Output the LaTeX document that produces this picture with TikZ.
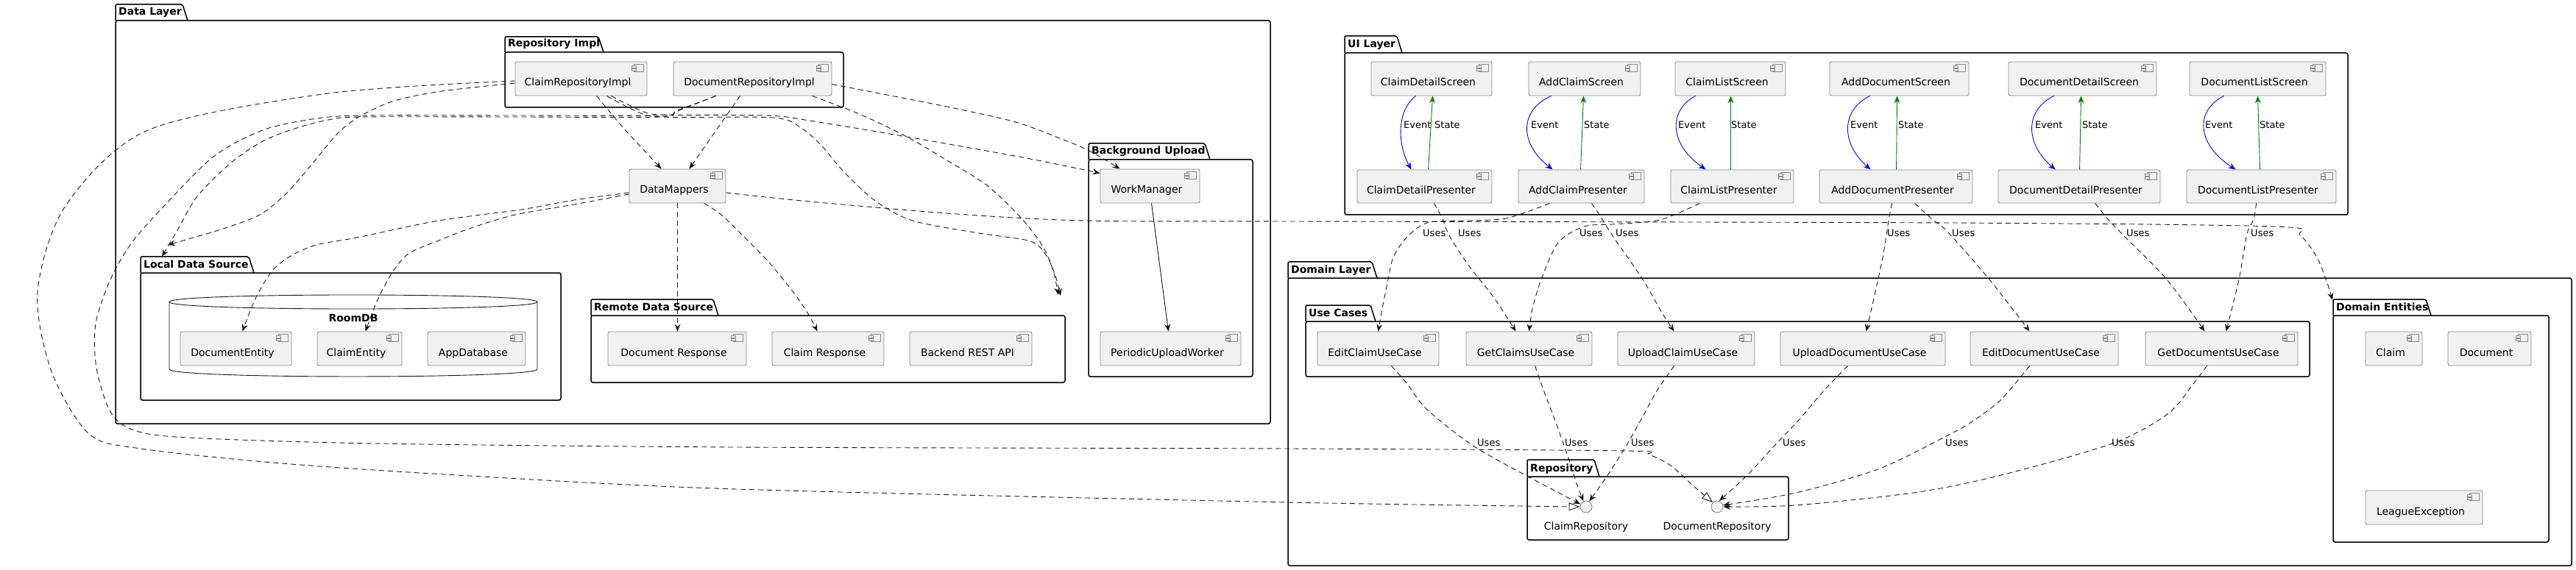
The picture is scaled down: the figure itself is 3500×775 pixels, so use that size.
\documentclass[tikz,border=0pt]{standalone}
\usepackage{fontspec}
\setmainfont{DejaVu Sans}
\usetikzlibrary{arrows.meta}
\definecolor{compfill}{HTML}{F1F1F1}
\definecolor{compline}{HTML}{8A8A8A}
\definecolor{arrowc}{HTML}{181818}
\definecolor{evblue}{HTML}{0000FF}
\definecolor{stgreen}{HTML}{008000}
\tikzset{
  compbox/.style={draw=compline, fill=compfill, rounded corners=2.5pt, line width=0.9pt, inner sep=0pt},
  comptext/.style={font=\fontsize{14}{16}\selectfont, text height=10pt, text depth=3pt, inner sep=0pt},
  iconst/.style={draw=compline, fill=compfill, line width=0.7pt},
  pkgline/.style={draw=black, line width=1.5pt},
  pkgbody/.style={draw=black, line width=1.5pt, rounded corners=2.5pt, inner sep=0pt},
  pkgtitle/.style={font=\bfseries\fontsize{14}{16}\selectfont, inner sep=0pt},
  dep/.style={draw=arrowc, line width=0.9pt, dash pattern=on 7pt off 5pt, -{Stealth[length=10pt,width=8pt,inset=3.5pt]}},
  real/.style={draw=arrowc, line width=0.9pt, dash pattern=on 7pt off 5pt, -{Triangle[length=15pt,width=11pt,fill=white]}},
  solidarr/.style={draw=arrowc, line width=0.9pt, -{Stealth[length=10pt,width=8pt,inset=3.5pt]}},
  evarr/.style={draw=evblue, line width=0.9pt, -{Stealth[length=10pt,width=8pt,inset=3.5pt]}},
  starr/.style={draw=stgreen, line width=0.9pt, -{Stealth[length=10pt,width=8pt,inset=3.5pt]}},
  lbl/.style={font=\fontsize{13}{15}\selectfont, inner sep=0pt, anchor=base west},
  iface/.style={circle, draw=compline, fill=compfill, line width=0.9pt, minimum size=16pt, inner sep=0pt},
}
\newcommand\mkicon[1]{%
  \draw[iconst] ([xshift=-18pt,yshift=-4pt]#1.north east) rectangle ([xshift=-5pt,yshift=-14pt]#1.north east);
  \draw[iconst] ([xshift=-21pt,yshift=-6pt]#1.north east) rectangle ([xshift=-15pt,yshift=-8.5pt]#1.north east);
  \draw[iconst] ([xshift=-21pt,yshift=-10pt]#1.north east) rectangle ([xshift=-15pt,yshift=-12.5pt]#1.north east);
}
\newcommand\mkcomp[6]{%
  \node[compbox, minimum width={#4-#2}, minimum height={#5-#3}] (#1) at ({(#2+#4)/2},{(#3+#5)/2}) {};
  \node[comptext] (#1-t) at ([xshift=-4.5pt,yshift=-6.5pt]#1.center) {#6};
  \mkicon{#1}
}
\newcommand\mkpkg[8]{%
  \draw[pkgline, rounded corners=2pt] (#2,#5) -- (#2,#3) -- ({#4-7},#3) -- (#4,#5);
  \node[pkgbody, minimum width={#6-#2}, minimum height={#7-#5}] (#1) at ({(#2+#6)/2},{(#5+#7)/2}) {};
  \node[pkgtitle, anchor=base west] (#1-t) at ({#2+4},{#5-7}) {#8};
}
\begin{document}
\begin{tikzpicture}[x=1pt,y=-1pt]
\useasboundingbox (0,0) rectangle (3500,775);
\fill[white] (0,0) rectangle (3500,775);

% ---------- packages ----------
\mkpkg{datalayer}{157}{6}{255}{28}{1726}{576}{Data Layer}
\mkpkg{repoimpl}{686}{50}{820}{71}{1146}{146}{Repository Impl}
\mkpkg{localds}{191}{349}{345}{371}{762}{544}{Local Data Source}
\mkpkg{remoteds}{803}{407}{976}{429}{1447}{520}{Remote Data Source}
\mkpkg{bgupload}{1479}{195}{1644}{217}{1702}{512}{Background Upload}
\mkpkg{uilayer}{1827}{49}{1905}{72}{3190}{292}{UI Layer}
\mkpkg{domainlayer}{1750}{356}{1871}{378}{3494}{769}{Domain Layer}
\mkpkg{usecases}{1774}{415}{1869}{437}{3138}{512}{Use Cases}
\mkpkg{domentities}{3170}{407}{3303}{429}{3463}{737}{Domain Entities}
\mkpkg{repository}{2075}{625}{2173}{648}{2430}{734}{Repository}

% RoomDB cylinder
\draw[draw=arrowc, line width=0.9pt, fill=white] (230,410.5) -- (230,502) .. controls (230,515.3) and (730,515.3) .. (730,502) -- (730,410.5);
\draw[draw=arrowc, line width=0.9pt, fill=white] (230,410.5) .. controls (230,397.8) and (730,397.8) .. (730,410.5) .. controls (730,423.2) and (230,423.2) .. cycle;
\node[pkgtitle, anchor=base] (roomdb-t) at (480,437) {RoomDB};

% ---------- components ----------
\mkcomp{cri}{700}{84}{879}{130}{ClaimRepositoryImpl}
\mkcomp{dri}{915}{84}{1130}{130}{DocumentRepositoryImpl}
\mkcomp{dm}{855}{230}{986}{276}{DataMappers}
\mkcomp{wm}{1495}{230}{1630}{276}{WorkManager}
\mkcomp{puw}{1495}{451}{1686}{497}{PeriodicUploadWorker}
\mkcomp{de}{245}{451}{396}{497}{DocumentEntity}
\mkcomp{ce}{431}{451}{546}{497}{ClaimEntity}
\mkcomp{ad}{581}{451}{714}{497}{AppDatabase}
\mkcomp{dr}{826}{451}{1014}{497}{Document Response}
\mkcomp{cr}{1049}{451}{1201}{497}{Claim Response}
\mkcomp{api}{1236}{451}{1402}{497}{Backend REST API}

\mkcomp{cds}{1863}{84}{2027}{130}{ClaimDetailScreen}
\mkcomp{acs}{2077}{84}{2229}{130}{AddClaimScreen}
\mkcomp{cls}{2276}{84}{2426}{130}{ClaimListScreen}
\mkcomp{ads}{2486}{84}{2675}{130}{AddDocumentScreen}
\mkcomp{dds}{2729}{84}{2930}{130}{DocumentDetailScreen}
\mkcomp{dls}{2975}{84}{3160}{130}{DocumentListScreen}

\mkcomp{cdp}{1844}{231}{2027}{276}{ClaimDetailPresenter}
\mkcomp{acp}{2063}{231}{2234}{276}{AddClaimPresenter}
\mkcomp{clp}{2270}{231}{2437}{276}{ClaimListPresenter}
\mkcomp{adp}{2472}{231}{2680}{276}{AddDocumentPresenter}
\mkcomp{ddp}{2715}{231}{2935}{276}{DocumentDetailPresenter}
\mkcomp{dlp}{2971}{231}{3174}{276}{DocumentListPresenter}

\mkcomp{ecu}{1790}{451}{1955}{497}{EditClaimUseCase}
\mkcomp{gcu}{1992}{451}{2163}{497}{GetClaimsUseCase}
\mkcomp{ucu}{2198}{451}{2384}{497}{UploadClaimUseCase}
\mkcomp{udu}{2419}{451}{2643}{497}{UploadDocumentUseCase}
\mkcomp{edu}{2677}{451}{2878}{497}{EditDocumentUseCase}
\mkcomp{gdu}{2915}{451}{3122}{497}{GetDocumentsUseCase}

\mkcomp{claim}{3214}{451}{3291}{497}{Claim}
\mkcomp{document}{3326}{451}{3439}{497}{Document}
\mkcomp{leagueex}{3214}{667}{3373}{713}{LeagueException}

\node[iface] (crepo) at (2155,689) {};
\node[comptext] (crepo-t) at (2155,716.5) {ClaimRepository};
\node[iface] (drepo) at (2333,689) {};
\node[comptext] (drepo-t) at (2333,716.5) {DocumentRepository};

% package target points
\coordinate (ldsA) at (228,333);
\coordinate (ldsB) at (220,349);
\coordinate (rdsT1) at (1441,402);
\coordinate (rdsT2) at (1438,401);
\coordinate (deTab) at (3169,408);

% ---------- data layer connectors ----------
\draw[dep] plot[smooth] coordinates {([xshift=111pt]cri.south west) (848,175) ([xshift=44pt]dm.north west)};
\draw[dep] ([xshift=91pt]dri.south west) -- ([xshift=82pt]dm.north west);
\draw[real] plot[smooth] coordinates {([yshift=-3pt]cri.west) (446,127) (201,177) (89,280) (51,397) (70,505) (121,590) (191,610) (383,630) (638,647) (1000,665) (1750,683) (crepo.west)};
\draw[real] plot[smooth] coordinates {([xshift=58pt]dri.south west) (920,150) (896,157) (700,157) (491,157) (424,162) (357,177) (290,213) (223,280) (179,330) (150,380) (130,440) (131,500) (150,560) (182,585) (255,595) (510,603) (1000,608) (1750,610) (2209,613) (2240,618) (2270,633) (2300,660) (drepo.135)};
\draw[dep] plot[smooth] coordinates {([yshift=-6pt]cri.west) (600,124) (536,137) (491,157) (460,180) (424,223) (390,262) (353,292) (300,312) (ldsA)};
\draw[dep] plot[smooth] coordinates {([xshift=58pt]dri.south west) (920,151) (896,159) (700,159) (491,159) (446,163) (400,175) (357,192) (313,222) (268,267) (241,313) (ldsB)};
\draw[dep] plot[smooth] coordinates {([xshift=131pt]cri.south west) (870,150) (900,156) (1042,157) (1100,164) (1238,187) (1400,216) ([yshift=-6pt]wm.north west)};
\draw[dep] plot[smooth] coordinates {([xshift=125pt]cri.south west) (862,150) (898,159) (1051,160) (1090,175) (1118,200) (1145,232) (1189,273) (1240,300) (1330,317) (1400,328) (1422,348) (1434,375) (rdsT1)};
\draw[dep] plot[smooth] coordinates {([yshift=-31pt]dri.north east) (1200,128) (1296,147) (1380,166) (1440,188) (1480,205) ([xshift=27pt]wm.north west)};
\draw[dep] plot[smooth] coordinates {([xshift=189pt]dri.south west) (1170,156) (1234,187) (1290,220) (1341,252) (1386,295) (1415,332) (1430,365) (rdsT2)};
\draw[dep] plot[smooth] coordinates {([yshift=-9pt]dm.west) (780,272) (708,285) (596,300) (485,323) (430,333) (395,348) (370,368) (350,400) (337,430) ([xshift=85pt]de.north west)};
\draw[dep] plot[smooth] coordinates {([yshift=-11pt]dm.west) (780,278) (700,292) (640,310) (596,327) (555,345) (532,372) (512,410) ([xshift=66pt]ce.north west)};
\draw[dep] ([xshift=66pt]dm.south west) -- ([xshift=95pt]dr.north west);
\draw[dep] plot[smooth] coordinates {([xshift=102pt]dm.south west) (980,292) (1011,322) (1045,357) (1080,400) (1100,430) ([xshift=62pt]cr.north west)};
\draw[dep] plot[smooth] coordinates {([yshift=-9pt]dm.east) (1100,274) (1300,291) (1475,300) (1750,301) (2650,303) (3090,308) (3125,320) (3148,350) (3162,385) (deTab)};
\draw[solidarr] ([xshift=70pt]wm.south west) -- ([xshift=93pt]puw.north west);

% ---------- UI event / state ----------
\draw[evarr] ([xshift=61pt]cds.south west) .. controls (1898,150) and (1898,195) .. ([xshift=74pt]cdp.north west);
\draw[starr] ([xshift=97pt]cdp.north west) -- ([xshift=84pt]cds.south west);
\draw[evarr] ([xshift=31pt]acs.south west) .. controls (2064,150) and (2064,195) .. ([xshift=47pt]acp.north west);
\draw[starr] ([xshift=85pt]acp.north west) -- ([xshift=75pt]acs.south west);
\draw[evarr] ([xshift=28pt]cls.south west) .. controls (2267,150) and (2267,195) .. ([xshift=48pt]clp.north west);
\draw[starr] ([xshift=82pt]clp.north west) -- ([xshift=76pt]cls.south west);
\draw[evarr] ([xshift=55pt]ads.south west) .. controls (2501,150) and (2501,195) .. ([xshift=70pt]adp.north west);
\draw[starr] ([xshift=105pt]adp.north west) -- ([xshift=92pt]ads.south west);
\draw[evarr] ([xshift=62pt]dds.south west) .. controls (2751,150) and (2751,195) .. ([xshift=78pt]ddp.north west);
\draw[starr] ([xshift=111pt]ddp.north west) -- ([xshift=99pt]dds.south west);
\draw[evarr] ([xshift=47pt]dls.south west) .. controls (2983,150) and (2983,195) .. ([xshift=67pt]dlp.north west);
\draw[starr] ([xshift=100pt]dlp.north west) -- ([xshift=93pt]dls.south west);

\node[lbl] (ev1) at (1907,175) {Event};
\node[lbl] (st1) at (1949,175) {State};
\node[lbl] (ev2) at (2080,175) {Event};
\node[lbl] (st2) at (2152,175) {State};
\node[lbl] (ev3) at (2280,175) {Event};
\node[lbl] (st3) at (2352,175) {State};
\node[lbl] (ev4) at (2514,175) {Event};
\node[lbl] (st4) at (2579,175) {State};
\node[lbl] (ev5) at (2765,175) {Event};
\node[lbl] (st5) at (2829,175) {State};
\node[lbl] (ev6) at (2996,175) {Event};
\node[lbl] (st6) at (3070,175) {State};

% ---------- presenters -> use cases ----------
\draw[dep] plot[smooth] coordinates {([xshift=43pt]acp.south west) (2046,297) (1990,300) (1939,303) (1911,323) (1893,350) (1886,380) (1878,420) ([xshift=83pt]ecu.north west)};
\draw[dep] plot[smooth] coordinates {([xshift=105pt]cdp.south west) (1960,298) (1970,322) (1997,363) (2030,405) ([xshift=68pt]gcu.north west)};
\draw[dep] plot[smooth] coordinates {([xshift=40pt]clp.south west) (2255,299) (2190,305) (2152,308) (2117,330) (2094,380) (2082,420) ([xshift=86pt]gcu.north west)};
\draw[dep] plot[smooth] coordinates {([xshift=100pt]acp.south west) (2175,295) (2192,322) (2232,380) (2258,425) ([xshift=77pt]ucu.north west)};
\draw[dep] plot[smooth] coordinates {([xshift=99pt]adp.south west) (2566,300) (2558,350) (2545,410) ([xshift=117pt]udu.north west)};
\draw[dep] plot[smooth] coordinates {([xshift=130pt]adp.south west) (2625,298) (2646,315) (2703,380) ([xshift=81pt]edu.north west)};
\draw[dep] plot[smooth] coordinates {([xshift=132pt]ddp.south west) (2864,298) (2887,322) (2944,380) ([xshift=81pt]gdu.north west)};
\draw[dep] plot[smooth] coordinates {([xshift=95pt]dlp.south west) (3062,298) (3053,318) (3042,380) ([xshift=110pt]gdu.north west)};

\node[lbl] (u1) at (1933,322) {Uses};
\node[lbl] (u2) at (1981,322) {Uses};
\node[lbl] (u3) at (2146,322) {Uses};
\node[lbl] (u4) at (2195,322) {Uses};
\node[lbl] (u5) at (2564,322) {Uses};
\node[lbl] (u6) at (2652,322) {Uses};
\node[lbl] (u7) at (2889,322) {Uses};
\node[lbl] (u8) at (3058,322) {Uses};

% ---------- use cases -> repositories ----------
\draw[dep] plot[smooth] coordinates {([xshift=101pt]ecu.south west) (1912,522) (1939,557) (2003,607) (2080,650) (crepo.155)};
\draw[dep] plot[smooth] coordinates {([xshift=94pt]gcu.south west) (2097,530) (2113,572) (2130,620) (2143,660) (crepo.115)};
\draw[dep] plot[smooth] coordinates {([xshift=77pt]ucu.south west) (2252,530) (2230,570) (2209,607) (2185,645) (crepo.60)};
\draw[dep] plot[smooth] coordinates {([xshift=92pt]udu.south west) (2479,530) (2445,570) (2410,607) (2375,645) (drepo.70)};
\draw[dep] plot[smooth] coordinates {([xshift=81pt]edu.south west) (2735,525) (2715,547) (2680,573) (2650,590) (2554,637) (2440,670) (drepo.15)};
\draw[dep] plot[smooth] coordinates {([xshift=84pt]gdu.south west) (2980,522) (2945,563) (2870,603) (2715,647) (2600,670) (2439,687) (drepo.east)};

\node[lbl] (r1) at (2007,606) {Uses};
\node[lbl] (r2) at (2126,606) {Uses};
\node[lbl] (r3) at (2216,606) {Uses};
\node[lbl] (r4) at (2422,606) {Uses};
\node[lbl] (r5) at (2643,606) {Uses};
\node[lbl] (r6) at (2869,606) {Uses};
\end{tikzpicture}
\end{document}
